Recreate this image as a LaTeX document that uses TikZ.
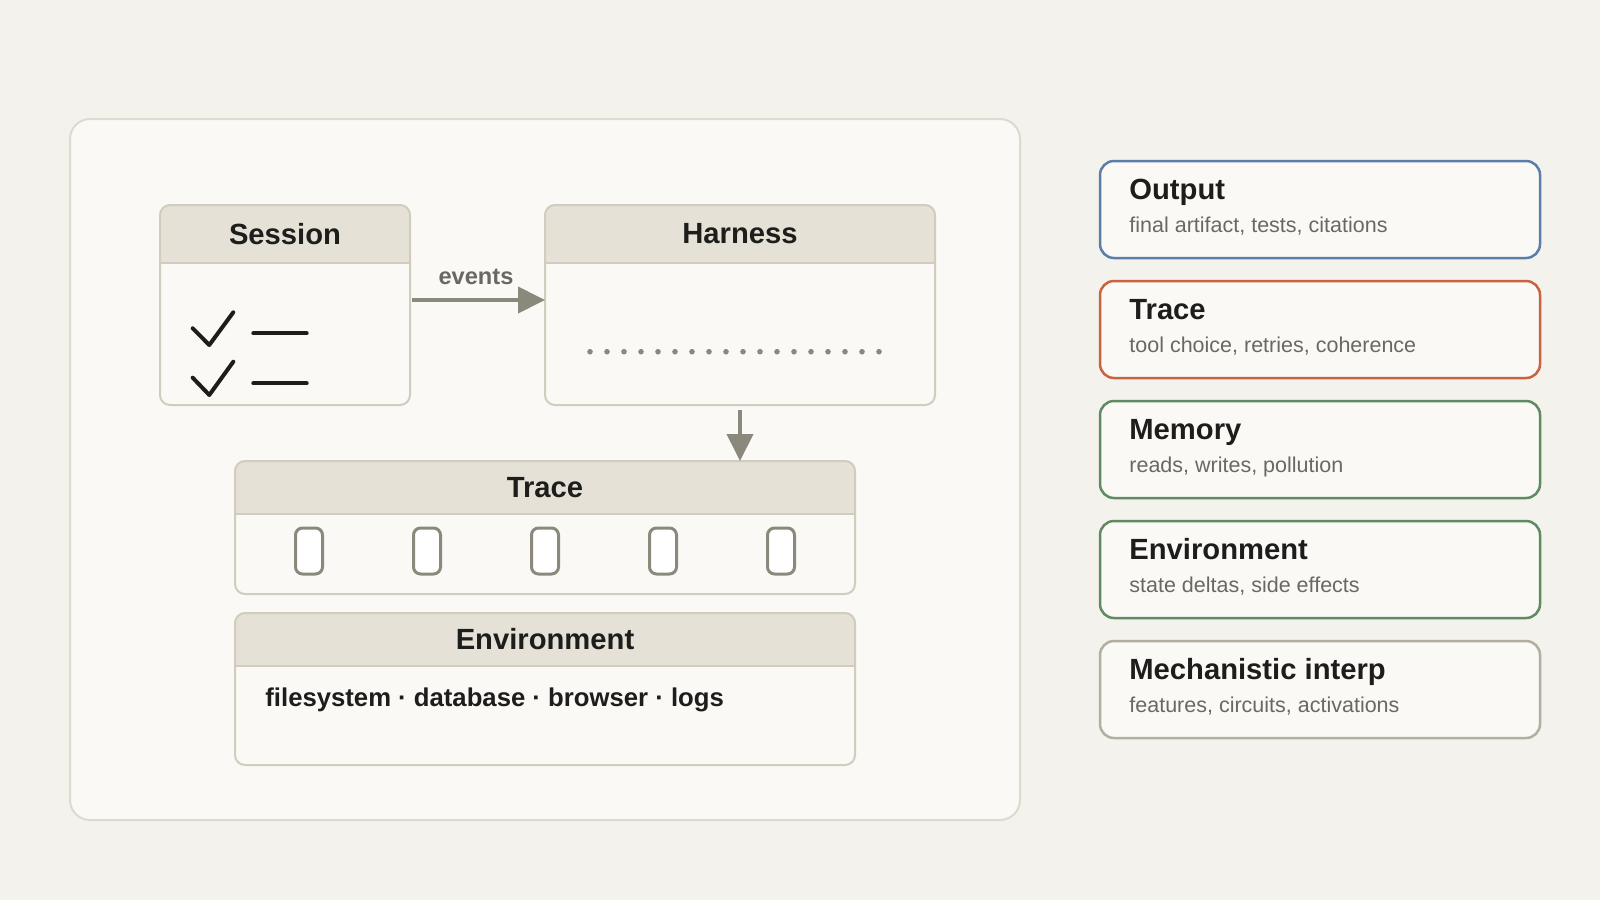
\documentclass[tikz,border=0pt]{standalone}
\usepackage{fontspec}
\setmainfont{Liberation Sans}
\usetikzlibrary{arrows.meta,calc}
\definecolor{bgc}{HTML}{F3F2ED}
\definecolor{panelfill}{HTML}{FAF9F6}
\definecolor{panelline}{HTML}{DEDACF}
\definecolor{hdrfill}{HTML}{E5E1D7}
\definecolor{boxline}{HTML}{D2CCBE}
\definecolor{ink}{HTML}{1D1D1B}
\definecolor{subink}{HTML}{6A6862}
\definecolor{arrowc}{HTML}{8B887C}
\definecolor{cblue}{HTML}{5A7EA8}
\definecolor{corange}{HTML}{C9633F}
\definecolor{cgreen}{HTML}{5F8A62}
\definecolor{cgrey}{HTML}{B4AE9F}
\newcommand\headbox[7]{%
  \node[hbox, minimum width={(#4-#2)*0.5pt}, minimum height={(#5-#3)*0.5pt}, anchor=north west] (#1) at (#2,#3) {};
  \begin{scope}
    \clip[rounded corners=5pt] (#2,#3) rectangle (#4,#5);
    \fill[hdrfill] (#2,#3) rectangle (#4,#6);
  \end{scope}
  \draw[hline] (#2,#6) -- (#4,#6);
  \draw[hline, rounded corners=5pt] (#2,#3) rectangle (#4,#5);
  \node[htitle] (#1-title) at ({(#2+#4)/2},{(#3+#6)/2}) {#7};
}
\newcommand\card[5]{%
  \node[cardbox, draw=#5, anchor=north west] (#1) at (1100,#2) {};
  \node[cardtitle] (#1-t) at (1129,#2+38) {#3};
  \node[cardsub] (#1-s) at (1129,#2+71) {#4};
}
\begin{document}
\begin{tikzpicture}[x=0.5pt,y=-0.5pt,
  hbox/.style={fill=panelfill, rounded corners=5pt, inner sep=0pt, outer sep=0pt},
  hline/.style={draw=boxline, line width=1pt},
  htitle/.style={inner sep=0pt, text=ink, font=\fontsize{14.6pt}{17pt}\selectfont\bfseries},
  cardbox/.style={fill=panelfill, line width=1.25pt, rounded corners=7pt, minimum width=220pt, minimum height=48.5pt, inner sep=0pt, outer sep=0pt},
  cardtitle/.style={anchor=base west, inner sep=0pt, text=ink, font=\fontsize{14.6pt}{17pt}\selectfont\bfseries},
  cardsub/.style={anchor=base west, inner sep=0pt, text=subink, font=\fontsize{10.75pt}{13pt}\selectfont},
  flow/.style={draw=arrowc, line width=2pt, -{Triangle[length=13.5pt,width=13pt]}},
  stepbox/.style={draw=arrowc, fill=white, line width=1.5pt, rounded corners=3.5pt, minimum width=13.5pt, minimum height=23pt, inner sep=0pt},
  tick/.style={draw=ink, line width=2pt, line cap=round, line join=round}
]
\fill[bgc] (0,0) rectangle (1600,900);
\useasboundingbox (0,0) rectangle (1600,900);

% outer panel
\node[fill=panelfill, draw=panelline, line width=1pt, rounded corners=10pt, minimum width=475pt, minimum height=350.5pt, inner sep=0pt, outer sep=0pt, anchor=north west] (panel) at (70,119) {};

% boxes
\headbox{session}{160}{205}{410}{405}{263}{Session}
\headbox{harness}{545}{205}{935}{405}{263}{Harness}
\headbox{trace}{235}{461}{855}{594}{514}{Trace}
\headbox{env}{235}{613}{855}{765}{666}{Environment}

% session checklist
\draw[tick] (192.7,328.3) -- (209.3,345) -- (233.3,312.3);
\draw[tick] (253.3,333.3) -- (306.7,333.3);
\draw[tick] (192.7,377.7) -- (209.3,395) -- (233.3,361.7);
\draw[tick] (253.3,383.3) -- (306.7,383.3);

% harness dots
\foreach \i in {0,...,17} \fill[arrowc] (590+17*\i,351.7) circle (1.4pt);

% events arrow
\coordinate (evy) at (0,300);
\draw[flow, shorten <=1pt] (session.east |- evy) -- (harness.west |- evy);
\node[inner sep=0pt, text=subink, font=\fontsize{11.8pt}{14pt}\selectfont\bfseries] (evlabel) at (476,277) {events};

% harness to trace
\draw[flow, shorten <=2.5pt] (harness.south) -- (harness.south |- trace.north);

% trace steps
\foreach \x [count=\k] in {309,427,545,663,781}
  \node[stepbox] (st\k) at (\x,551) {};

% environment body
\node[anchor=west, inner sep=0pt, text=ink, font=\fontsize{12.85pt}{15pt}\selectfont\bfseries] (envtext) at (265,700) {filesystem · database · browser · logs};

% cards
\card{cout}{161}{Output}{final artifact, tests, citations}{cblue}
\card{ctrace}{281}{Trace}{tool choice, retries, coherence}{corange}
\card{cmem}{401}{Memory}{reads, writes, pollution}{cgreen}
\card{cenv}{521}{Environment}{state deltas, side effects}{cgreen}
\card{cmech}{641}{Mechanistic interp}{features, circuits, activations}{cgrey}
\end{tikzpicture}
\end{document}
